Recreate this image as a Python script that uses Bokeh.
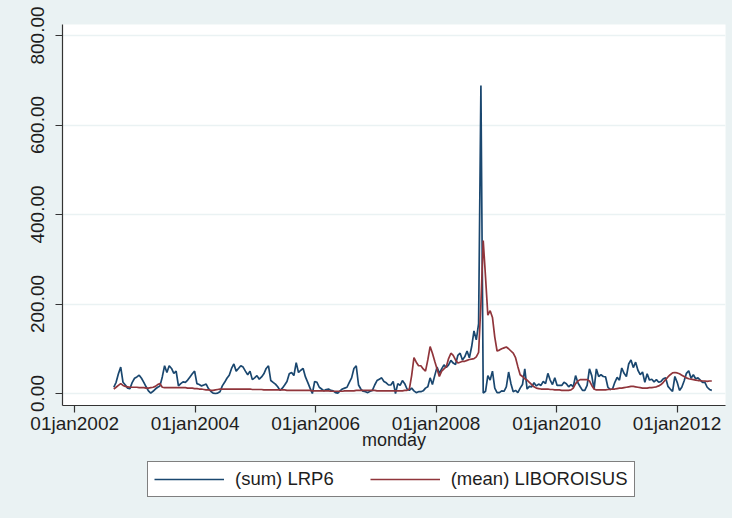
import pandas as pd
from bokeh.plotting import figure
from bokeh.layouts import column
from bokeh.models import Range1d, FixedTicker, NumeralTickFormatter, Legend, LegendItem
from bokeh.embed import file_html
from bokeh.resources import INLINE

# ---------------- data ----------------
start_date = "2002-08-26"          # first observation (biweekly sampling of weekly data)
step = "14D"

lrp6 = [
    14, 25, 44, 59, 25, 19, 12, 11, 25, 34,
    37, 41, 34, 25, 15, 6, 1, 5, 10, 14,
    17, 37, 62, 47, 62, 56, 45, 50, 17, 22,
    26, 25, 30, 37, 44, 50, 22, 20, 17, 19,
    21, 11, 5, 1, 0, 1, 4, 17, 25, 34,
    41, 56, 66, 50, 56, 62, 59, 50, 42, 50,
    31, 35, 40, 32, 37, 44, 56, 62, 29, 25,
    21, 15, 7, 12, 19, 27, 44, 47, 40, 69,
    47, 52, 56, 37, 25, 12, 0, 27, 25, 14,
    10, 6, 9, 10, 7, 6, 2, 1, 6, 10,
    12, 14, 25, 35, 56, 62, 19, 10, 5, 4,
    2, 5, 7, 19, 29, 32, 35, 27, 24, 19,
    19, 27, 0, 22, 18, 29, 22, 10, 7, 12,
    6, 2, 4, 4, 6, 12, 15, 35, 20, 40,
    59, 45, 55, 64, 58, 64, 74, 68, 65, 85,
    90, 75, 82, 95, 80, 105, 140, 120, 156, 688,
    1, 5, 40, 30, 50, 12, 2, 2, 6, 5,
    15, 48, 22, 4, 7, 2, 12, 20, 55, 10,
    16, 15, 24, 17, 21, 18, 27, 22, 45, 30,
    20, 35, 18, 18, 18, 25, 22, 15, 20, 15,
    40, 24, 15, 7, 7, 18, 55, 40, 10, 55,
    38, 42, 38, 37, 14, 9, 10, 25, 36, 30,
    57, 45, 38, 66, 75, 58, 70, 52, 42, 48,
    25, 44, 30, 32, 26, 31, 25, 27, 33, 35,
    16, 10, 5, 38, 25, 7, 14, 28, 45, 51,
    34, 42, 33, 35, 30, 25, 25, 14, 9, 7,
]

liboroisus = [
    10, 14, 18, 22, 18, 16, 15, 14, 14, 14,
    14, 13, 13, 13, 12, 12, 13, 14, 16, 20,
    22, 14, 13, 13, 13, 13, 13, 13, 13, 13,
    13, 13, 12, 12, 12, 11, 11, 10, 10, 9,
    8, 8, 7, 7, 8, 9, 10, 10, 10, 10,
    10, 10, 10, 10, 10, 10, 10, 10, 10, 10,
    9, 9, 9, 9, 9, 8, 8, 8, 8, 8,
    8, 8, 8, 8, 8, 7, 7, 7, 7, 7,
    7, 7, 7, 7, 7, 7, 6, 6, 6, 6,
    6, 6, 6, 6, 5, 5, 5, 5, 5, 5,
    6, 6, 6, 6, 6, 7, 7, 7, 7, 7,
    7, 7, 7, 7, 6, 6, 6, 6, 6, 6,
    6, 6, 6, 6, 6, 6, 7, 7, 10, 40,
    80, 70, 62, 62, 55, 50, 75, 105, 90, 72,
    55, 38, 50, 55, 60, 78, 90, 85, 75, 68,
    70, 72, 72, 74, 76, 77, 78, 82, 92, 200,
    342, 260, 175, 185, 170, 126, 95, 97, 100, 102,
    104, 100, 95, 90, 80, 60, 42, 38, 33, 30,
    25, 20, 15, 12, 11, 10, 10, 10, 10, 9,
    9, 8, 8, 8, 7, 7, 7, 7, 8, 12,
    22, 28, 31, 31, 31, 31, 28, 18, 10, 8,
    8, 8, 8, 8, 9, 9, 10, 10, 11, 12,
    12, 13, 14, 15, 16, 16, 15, 14, 13, 12,
    12, 12, 13, 13, 14, 15, 17, 20, 25, 31,
    37, 42, 46, 47, 46, 44, 41, 38, 35, 33,
    32, 31, 30, 29, 29, 28, 28, 27, 28, 28,
]

x_tick_dates = ["2002-01-01", "2004-01-01", "2006-01-01", "2008-01-01", "2010-01-01", "2012-01-01"]
x_tick_labels = ["01jan2002", "01jan2004", "01jan2006", "01jan2008", "01jan2010", "01jan2012"]
y_ticks = [0, 200, 400, 600, 800]

series_names = ["(sum) LRP6", "(mean) LIBOROISUS"]
series_colors = ["#1A476F", "#90353B"]
x_title = "monday"

# ---------------- build ----------------
def ms(d):
    return float(pd.Timestamp(d).value // 10**6)

dates = pd.date_range(start_date, periods=len(lrp6), freq=step)
xs = [float(t.value // 10**6) for t in dates]

FONT = "Liberation Sans"
TXT = "#1e1e1e"
BG = "#EAF2F3"
LW = 1.7

p = figure(frame_width=663, frame_height=381, output_backend="svg", toolbar_location=None,
           x_range=Range1d(ms("2001-10-19"), ms("2012-10-21")),
           y_range=Range1d(-26.8, 824.6),
           min_border_left=62, min_border_right=7, min_border_top=24, min_border_bottom=50)

p.background_fill_color = "white"
p.border_fill_color = BG
p.outline_line_color = None

p.line(xs, lrp6, line_color=series_colors[0], line_width=LW)
p.line(xs, liboroisus, line_color=series_colors[1], line_width=LW)

# axes
tick_ms = [ms(d) for d in x_tick_dates]
p.xaxis.ticker = FixedTicker(ticks=tick_ms)
p.xaxis.major_label_overrides = {t: lab for t, lab in zip(tick_ms, x_tick_labels)}
p.yaxis.ticker = FixedTicker(ticks=y_ticks)
p.yaxis.formatter = NumeralTickFormatter(format="0.00")
p.yaxis.major_label_orientation = "vertical"

for ax in (p.xaxis[0], p.yaxis[0]):
    ax.axis_line_color = "#333333"
    ax.axis_line_width = 1.2
    ax.major_tick_line_color = "#333333"
    ax.major_tick_line_width = 1.2
    ax.major_tick_in = 0
    ax.major_tick_out = 7
    ax.minor_tick_line_color = None
    ax.major_label_text_font = FONT
    ax.major_label_text_font_size = "19px"
    ax.major_label_text_color = TXT

p.xaxis.major_label_standoff = 0
p.yaxis.major_label_standoff = 11
p.xaxis.axis_label = x_title
p.xaxis.axis_label_text_font = FONT
p.xaxis.axis_label_text_font_size = "18px"
p.xaxis.axis_label_text_font_style = "normal"
p.xaxis.axis_label_text_color = TXT
p.xaxis.axis_label_standoff = -7

p.xgrid.visible = False
p.ygrid.grid_line_color = BG
p.ygrid.grid_line_width = 1.5

# ---------------- legend strip below the plot ----------------
leg = figure(width=732, height=63, output_backend="svg", toolbar_location=None,
             x_axis_location=None, y_axis_location=None,
             x_range=Range1d(0, 1), y_range=Range1d(0, 1),
             min_border=0, min_border_left=0, min_border_right=0,
             min_border_top=0, min_border_bottom=0)
leg.background_fill_color = BG
leg.border_fill_color = BG
leg.outline_line_color = None
leg.grid.visible = False

# legend proxies: same series, but outside this strip's ranges (not drawn)
d1 = leg.line(xs, lrp6, line_color=series_colors[0], line_width=LW)
d2 = leg.line(xs, liboroisus, line_color=series_colors[1], line_width=LW)

legend = Legend(items=[LegendItem(label=series_names[0], renderers=[d1]),
                       LegendItem(label=series_names[1], renderers=[d2])],
                orientation="horizontal", location=(85, 21))
legend.label_text_font = FONT
legend.label_text_font_size = "18.5px"
legend.label_text_color = TXT
legend.glyph_width = 70
legend.glyph_height = 18
legend.label_height = 18
legend.label_standoff = 11
legend.spacing = 36
legend.padding = 6
legend.margin = 0
legend.border_line_color = "black"
legend.border_line_width = 1
legend.background_fill_color = "white"
legend.background_fill_alpha = 1
leg.add_layout(legend, "center")

layout = column(p, leg, spacing=0)
layout.background = BG

open("out.html", "w").write(file_html(layout, INLINE))
